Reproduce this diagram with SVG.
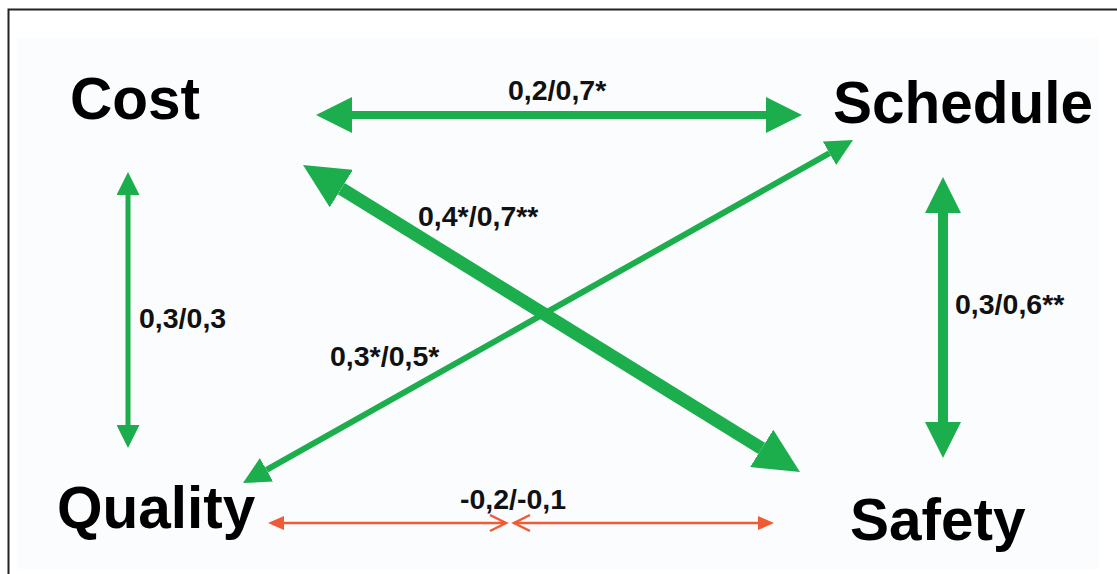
<svg xmlns="http://www.w3.org/2000/svg" width="1117" height="574" viewBox="0 0 1117 574">
  <style>
    .node { font-family: "Liberation Sans", Arial, sans-serif; font-weight: bold; font-size: 58.5px; fill: #000; }
    .lbl { font-family: "Liberation Sans", Arial, sans-serif; font-weight: bold; font-size: 28.5px; fill: #111; }
    .g { stroke: #1cae4c; fill: none; }
    .o { stroke: #f05a35; fill: none; stroke-width: 2.5; }
  </style>
  <defs>
    <marker id="h36" viewBox="0 0 36 36" refX="0" refY="18" markerWidth="36" markerHeight="36" markerUnits="userSpaceOnUse" orient="auto-start-reverse">
      <path d="M0,0 L36,18 L0,36 Z" fill="#1cae4c"/>
    </marker>
    <marker id="h23" viewBox="0 0 23 23" refX="0" refY="11.5" markerWidth="23" markerHeight="23" markerUnits="userSpaceOnUse" orient="auto-start-reverse">
      <path d="M0,0 L23,11.5 L0,23 Z" fill="#1cae4c"/>
    </marker>
    <marker id="h45" viewBox="0 0 45 44" refX="0" refY="22" markerWidth="45" markerHeight="44" markerUnits="userSpaceOnUse" orient="auto-start-reverse">
      <path d="M0,0 L45,22 L0,44 Z" fill="#1cae4c"/>
    </marker>
    <marker id="h27" viewBox="0 0 27 27" refX="0" refY="13.5" markerWidth="27" markerHeight="27" markerUnits="userSpaceOnUse" orient="auto-start-reverse">
      <path d="M0,0 L27,13.5 L0,27 Z" fill="#1cae4c"/>
    </marker>
    <marker id="ho" viewBox="0 0 16 14" refX="0" refY="7" markerWidth="16" markerHeight="14" markerUnits="userSpaceOnUse" orient="auto-start-reverse">
      <path d="M0,0 L16,7 L0,14 Z" fill="#f05a35"/>
    </marker>
  </defs>

  <rect x="0" y="0" width="1117" height="574" fill="#ffffff"/>
  <rect x="17" y="38" width="1082" height="531" fill="#fbfcfe"/>
  <path d="M8.5,574 L8.5,9.5 L1117,9.5" fill="none" stroke="#222" stroke-width="2"/>

  <g id="connectors">
    <line class="g" x1="352" y1="115" x2="766" y2="115" stroke-width="8" marker-start="url(#h36)" marker-end="url(#h36)"/>
    <line class="g" x1="128" y1="195" x2="128" y2="425" stroke-width="5" marker-start="url(#h23)" marker-end="url(#h23)"/>
    <line class="g" x1="943" y1="213" x2="943" y2="422" stroke-width="10" marker-start="url(#h36)" marker-end="url(#h36)"/>
    <line class="g" x1="341.3" y1="188.6" x2="761.7" y2="448.4" stroke-width="13" marker-start="url(#h45)" marker-end="url(#h45)"/>
    <line class="g" x1="266.5" y1="469.8" x2="829.5" y2="153.2" stroke-width="6" marker-start="url(#h27)" marker-end="url(#h27)"/>
    <line class="o" x1="284" y1="523" x2="505" y2="523" marker-start="url(#ho)"/>
    <path class="o" d="M490,515 L506,523 L490,531"/>
    <line class="o" x1="514" y1="523" x2="758" y2="523" marker-end="url(#ho)"/>
    <path class="o" d="M530,515 L514,523 L530,531"/>
    <text class="lbl" x="508" y="100">0,2/0,7*</text>
    <text class="lbl" x="139" y="328">0,3/0,3</text>
    <text class="lbl" x="955" y="314">0,3/0,6**</text>
    <text class="lbl" x="418" y="226">0,4*/0,7**</text>
    <text class="lbl" x="330" y="366">0,3*/0,5*</text>
    <text class="lbl" x="460" y="509">-0,2/-0,1</text>
  </g>

  <g id="cost"><text class="node" x="70" y="119">Cost</text></g>
  <g id="schedule"><text class="node" x="833" y="123">Schedule</text></g>
  <g id="quality"><text class="node" x="57" y="528">Quality</text></g>
  <g id="safety"><text class="node" x="850" y="540">Safety</text></g>
</svg>
